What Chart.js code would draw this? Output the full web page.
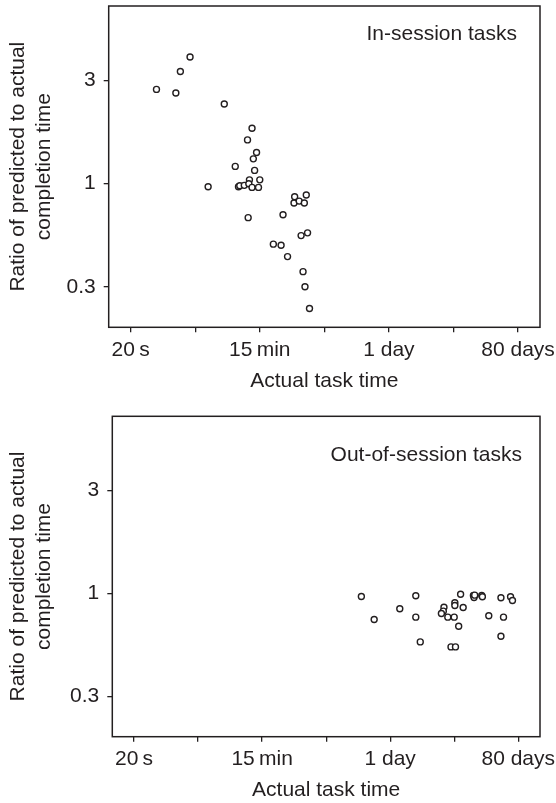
<!DOCTYPE html>
<html>
<head>
<meta charset="utf-8">
<script src="https://cdn.jsdelivr.net/npm/chart.js@4.4.0/dist/chart.umd.min.js"></script>
<style>
  html, body { margin: 0; padding: 0; background: #fff; }
  .panel { position: absolute; left: 0; width: 556px; }
  #top { top: 0; height: 395px; }
  #bottom { top: 395px; height: 408px; }
</style>
</head>
<body>
<div class="panel" id="top"><canvas id="inChart"></canvas></div>
<div class="panel" id="bottom"><canvas id="outChart"></canvas></div>
<script>
// time axis is in tick steps: 0 = 20 s, 2 = 15 min, 4 = 1 day, 6 = 80 days
const timeTicks = [0, 1, 2, 3, 4, 5, 6]
const timeLabels = ["20\u2009s", "", "15\u2009min", "", "1 day", "", "80 days"]
const ratioTicks = [1 / 3, 1, 3]
const ratioLabels = ["0.3", "1", "3"]

// In-session tasks
const inTime = [0.40, 0.70, 0.77, 0.92, 1.45, 1.20, 1.88, 1.81, 1.95, 1.90, 1.62, 1.92,
  1.84, 2.00, 1.67, 1.69, 1.76, 1.83, 1.88, 1.98, 1.82, 2.54, 2.72, 2.53, 2.61, 2.69,
  2.36, 2.64, 2.74, 2.21, 2.33, 2.43, 2.67, 2.70, 2.77]
const inRatio = [2.72, 2.62, 3.29, 3.84, 2.33, 0.967, 1.80, 1.59, 1.39, 1.30, 1.20, 1.15,
  1.04, 1.04, 0.967, 0.977, 0.981, 0.998, 0.960, 0.960, 0.696, 0.869, 0.885, 0.813, 0.830, 0.813,
  0.718, 0.575, 0.592, 0.525, 0.519, 0.460, 0.392, 0.334, 0.265]

// Out-of-session tasks
const outTime = [3.55, 3.75, 4.15, 4.40, 4.40, 4.47, 4.84, 4.83, 4.80, 4.90, 5.00, 5.01,
  5.01, 5.10, 5.14, 5.07, 4.95, 5.02, 5.30, 5.31, 5.32, 5.43, 5.44, 5.54, 5.73, 5.77,
  5.73, 5.88, 5.91]
const outRatio = [0.967, 0.757, 0.849, 0.975, 0.776, 0.596, 0.863, 0.827, 0.807, 0.776, 0.776, 0.905,
  0.879, 0.991, 0.860, 0.704, 0.565, 0.565, 0.978, 0.957, 0.981, 0.978, 0.964, 0.787, 0.954, 0.776,
  0.633, 0.964, 0.927]

const ink = "#231f20"
const family = "'Liberation Sans', Arial, sans-serif"

Chart.defaults.font.family = family
Chart.defaults.color = ink

function makeChart(id, xs, ys, label, box) {
  const points = xs.map((x, i) => ({ x: x, y: ys[i] }))
  const panelText = {
    id: "panelText",
    afterDraw(chart) {
      const { ctx, chartArea: a } = chart
      ctx.save()
      ctx.strokeStyle = ink
      ctx.lineWidth = 1.5
      ctx.strokeRect(a.left, a.top, a.right - a.left, a.bottom - a.top)
      ctx.fillStyle = ink
      ctx.font = "21px " + family
      ctx.textAlign = "right"
      ctx.textBaseline = "alphabetic"
      ctx.fillText(label, box.labelX, box.labelY)
      ctx.restore()
    },
  }
  return new Chart(document.getElementById(id), {
    type: "scatter",
    data: {
      datasets: [
        {
          data: points,
          pointRadius: 3,
          pointBorderWidth: 1.4,
          pointBorderColor: ink,
          pointBackgroundColor: "#fff",
          pointHoverRadius: 3,
        },
      ],
    },
    options: {
      responsive: true,
      maintainAspectRatio: false,
      animation: false,
      layout: { padding: { top: box.top, right: box.right, left: 0, bottom: 0 } },
      plugins: { legend: { display: false }, tooltip: { enabled: false } },
      scales: {
        x: {
          type: "linear",
          min: -0.34,
          max: 6.34,
          afterBuildTicks: (scale) => {
            scale.ticks = timeTicks.map((v) => ({ value: v }))
          },
          afterFit: (scale) => {
            scale.height = box.xHeight
            scale.paddingLeft = 0
            scale.paddingRight = 0
          },
          grid: { drawOnChartArea: false, drawTicks: true, tickLength: 5, color: ink, lineWidth: 1.3 },
          border: { display: false },
          ticks: {
            autoSkip: false,
            maxRotation: 0,
            padding: 5,
            font: { size: 21 },
            color: ink,
            callback: (v, i) => timeLabels[i],
          },
          title: {
            display: true,
            text: "Actual task time",
            font: { size: 21 },
            color: ink,
            padding: { top: 0, bottom: box.titlePad },
          },
        },
        y: {
          type: "logarithmic",
          min: 0.217,
          max: 6.6,
          afterBuildTicks: (scale) => {
            scale.ticks = ratioTicks.map((v) => ({ value: v }))
          },
          afterFit: (scale) => {
            scale.width = box.left
            scale.paddingTop = 0
            scale.paddingBottom = 0
          },
          grid: { drawOnChartArea: false, drawTicks: true, tickLength: 5, color: ink, lineWidth: 1.3 },
          border: { display: false },
          ticks: {
            padding: 8,
            font: { size: 21 },
            color: ink,
            callback: (v, i) => ratioLabels[i],
          },
          title: {
            display: true,
            text: ["Ratio of predicted to actual", "completion time"],
            font: { size: 21, lineHeight: 1.25 },
            color: ink,
            padding: { top: 5, bottom: 0 },
          },
        },
      },
    },
    plugins: [panelText],
  })
}

makeChart("inChart", inTime, inRatio, "In-session tasks", {
  top: 6, right: 16, left: 108.7, xHeight: 67.7, titlePad: 1.5, labelX: 517, labelY: 40,
})
makeChart("outChart", outTime, outRatio, "Out-of-session tasks", {
  top: 21.3, right: 16, left: 112.3, xHeight: 66.3, titlePad: 0, labelX: 522, labelY: 66,
})
</script>
</body>
</html>
